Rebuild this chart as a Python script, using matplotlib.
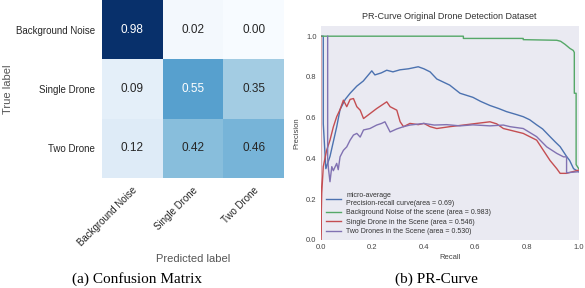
import matplotlib
matplotlib.use("Agg")
import matplotlib.pyplot as plt
import numpy as np

plt.rcParams['font.family'] = ['Liberation Sans', 'DejaVu Sans']

classes = ["Background Noise", "Single Drone", "Two Drone"]
cm = np.array([[0.98, 0.02, 0.00],
               [0.09, 0.55, 0.35],
               [0.12, 0.42, 0.46]])

# PR curves (recall, precision)
micro_r = [0.0, 0.01, 0.01, 0.02, 0.036, 0.062, 0.075, 0.095, 0.114, 0.14, 0.165, 0.198, 0.21, 0.235,
           0.256, 0.28, 0.307, 0.34, 0.378, 0.40, 0.424, 0.45, 0.475, 0.50, 0.54, 0.59, 0.62, 0.656,
           0.69, 0.72, 0.76, 0.785, 0.81, 0.837, 0.86, 0.889, 0.91, 0.928, 0.953, 0.965, 0.98, 1.0]
micro_p = [1.0, 1.0, 0.57, 0.35, 0.41, 0.555, 0.64, 0.69, 0.72, 0.755, 0.78, 0.83, 0.81, 0.82,
           0.833, 0.825, 0.835, 0.84, 0.85, 0.84, 0.825, 0.79, 0.775, 0.76, 0.72, 0.70, 0.68, 0.66,
           0.645, 0.63, 0.615, 0.605, 0.59, 0.565, 0.545, 0.507, 0.48, 0.458, 0.41, 0.39, 0.35, 0.335]

bg_r = [0.0, 0.553, 0.553, 0.785, 0.785, 0.915, 0.93, 0.947, 0.966, 0.979, 0.983, 0.983, 0.99, 0.99, 1.0]
bg_p = [1.0, 1.0, 0.989, 0.989, 0.983, 0.98, 0.975, 0.96, 0.94, 0.93, 0.92, 0.72, 0.72, 0.37, 0.35]

single_r = [0.0, 0.0, 0.004, 0.01, 0.023, 0.036, 0.049, 0.062, 0.075, 0.088, 0.101, 0.114, 0.127,
            0.14, 0.153, 0.166, 0.191, 0.217, 0.256, 0.269, 0.295, 0.308, 0.321, 0.346, 0.378,
            0.40, 0.424, 0.45, 0.50, 0.553, 0.604, 0.656, 0.682, 0.708, 0.734, 0.785, 0.837,
            0.863, 0.889, 0.915, 0.928, 0.953, 1.0]
single_p = [1.0, 0.0, 0.23, 0.36, 0.44, 0.49, 0.555, 0.605, 0.64, 0.686, 0.654, 0.69, 0.694,
            0.654, 0.637, 0.596, 0.62, 0.645, 0.678, 0.654, 0.637, 0.58, 0.556, 0.572, 0.566,
            0.572, 0.556, 0.547, 0.556, 0.564, 0.572, 0.58, 0.57, 0.547, 0.539, 0.523, 0.49,
            0.44, 0.39, 0.35, 0.327, 0.327, 0.343]

two_r = [0.027, 0.027, 0.03, 0.036, 0.043, 0.049, 0.062, 0.068, 0.075, 0.088, 0.101, 0.114, 0.127,
         0.14, 0.153, 0.166, 0.191, 0.217, 0.236, 0.249, 0.269, 0.295, 0.321, 0.346, 0.40, 0.44,
         0.488, 0.54, 0.59, 0.656, 0.708, 0.734, 0.785, 0.837, 0.876, 0.915, 0.941, 0.953, 0.953, 1.0]
two_p = [1.0, 0.40, 0.35, 0.286, 0.36, 0.34, 0.376, 0.345, 0.408, 0.44, 0.457, 0.49, 0.515,
         0.523, 0.505, 0.54, 0.547, 0.564, 0.572, 0.58, 0.53, 0.545, 0.556, 0.564, 0.572, 0.564,
         0.566, 0.56, 0.565, 0.56, 0.564, 0.556, 0.547, 0.507, 0.457, 0.425, 0.408, 0.408, 0.33, 0.335]

pr_labels = ["micro-average\nPrecision-recall curve(area = 0.69)",
             "Background Noise of the scene (area = 0.983)",
             "Single Drone in the Scene (area = 0.546)",
             "Two Drones in the Scene (area = 0.530)"]
pr_colors = ["#4C72B0", "#55A868", "#C44E52", "#8172B2"]

fig = plt.figure(figsize=(5.85, 2.88), dpi=100)

# confusion matrix
ax1 = fig.add_axes([102 / 585, 1 - 178 / 288, 182 / 585, 178 / 288])
ax1.imshow(cm, cmap="Blues", vmin=0, vmax=cm.max(), aspect="auto", interpolation="nearest")
thresh = cm.max() / 2.
for i in range(3):
    for j in range(3):
        ax1.text(j, i, "%.2f" % cm[i, j], ha="center", va="center", fontsize=8.5,
                 color="white" if cm[i, j] > thresh else "#262626")
ax1.set_xticks(range(3))
ax1.set_yticks(range(3))
ax1.set_xticklabels(classes, rotation=45, ha="right", rotation_mode="anchor", fontsize=7, color="#262626")
ax1.set_yticklabels(classes, fontsize=7, color="#262626")
ax1.tick_params(length=0, pad=5)
for s in ax1.spines.values():
    s.set_visible(False)
ax1.set_ylabel("True label", fontsize=8, color="#555555")
ax1.yaxis.set_label_coords(-0.49, 0.5)
ax1.set_xlabel("Predicted label", fontsize=8, color="#555555", labelpad=4)

# PR curve
ax2 = fig.add_axes([320.7 / 585, 1 - 240 / 288, 258 / 585, 214 / 288])
ax2.set_facecolor("#EAEAF2")
for r, p, c, lab in zip([micro_r, bg_r, single_r, two_r], [micro_p, bg_p, single_p, two_p],
                        pr_colors, pr_labels):
    ax2.plot(r, p, color=c, lw=1.0, label=lab)
ax2.set_xlim(0, 1)
ax2.set_ylim(0, 1.05)
ax2.set_xticks([0, 0.2, 0.4, 0.6, 0.8, 1.0])
ax2.set_yticks([0, 0.2, 0.4, 0.6, 0.8, 1.0])
ax2.tick_params(length=0, labelsize=5.5, labelcolor="#444444", pad=3)
for s in ax2.spines.values():
    s.set_visible(False)
ax2.set_xlabel("Recall", fontsize=5.5, color="#444444", labelpad=2)
ax2.set_ylabel("Precision", fontsize=5.5, color="#444444", labelpad=4)
ax2.set_title("PR-Curve Original Drone Detection Dataset", fontsize=6.5, color="#333333", pad=5)
leg = ax2.legend(loc="lower left", fontsize=5, frameon=False, handlelength=2.2, labelspacing=0.35,
                 borderaxespad=0.3)
for t in leg.get_texts():
    t.set_color("#333333")

fig.text(137 / 585, 1 - 279 / 288, "(a) Confusion Matrix", family="Liberation Serif", fontsize=11,
         ha="center", va="center")
fig.text(436 / 585, 1 - 279 / 288, "(b) PR-Curve", family="Liberation Serif", fontsize=11,
         ha="center", va="center")

fig.savefig("out.png", dpi=100)
